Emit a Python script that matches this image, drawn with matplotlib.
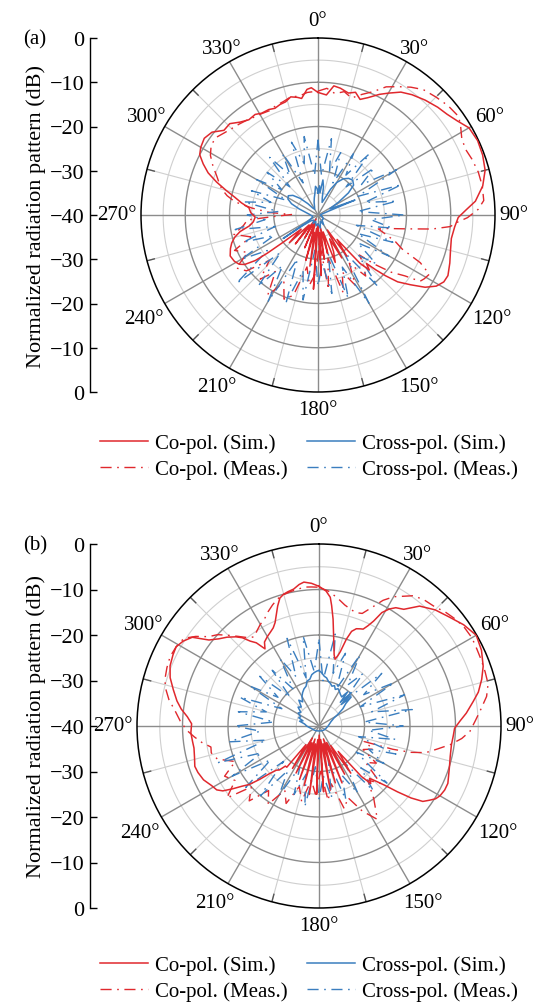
import numpy as np
import matplotlib
matplotlib.use('Agg')
import matplotlib.pyplot as plt
import matplotlib.transforms as mtransforms
from matplotlib.lines import Line2D

plt.rcParams['font.family'] = ['Liberation Serif', 'DejaVu Serif']

RED = '#e0282d'
BLUE = '#3b7ebf'
DARK = '#8c8c8c'
LIGHT = '#cfcfcf'

# ---------------- data (angle deg, dB) ----------------
A_CO_SIM = [(0,-12.3),(4,-12.8),(7,-10.6),(10,-10.9),(14,-11.6),(17,-11.0),(20,-12.2),(23,-11.2),(27,-9.4),(30,-8.2),
            (34,-6.5),(38,-5.5),(43,-4.5),(48,-3.6),(52,-3.0),(56,-2.0),(60,-0.6),(65,-0.2),(70,-0.4),(75,-0.9),
            (80,-2.2),(85,-4.3),(88,-6.5),(91,-8.3),(95,-9.0),(100,-9.4),(105,-9.0),(110,-8.3),(115,-7.6),(118,-7.8),
            (121,-8.8),(124,-10.8),(127,-13.8),(130,-16.5),(132,-19.5),(133.5,-22),(135,-24.5),(137,-23),(139,-25.5),
            (142,-33),(145,-28.6),(148,-36),(151,-28.9),(154,-34),(157,-31),(160,-28.6),(163,-36),(166,-31),(169,-37),
            (172,-29.9),(175,-36),(177,-26.3),(180,-38),(183.5,-23.2),(186,-37),(189,-28.3),(192,-36),(195,-29.4),(198,-38),
            (202,-32),(206,-39),(210,-34),(214,-38),(218,-31.7),(222,-37),(226,-31),(230,-35),(232,-30),(233,-25.7),
            (234,-22.5),(236,-20),(238,-19),(241,-18.4),(245,-18.1),(249,-18.8),(252,-19.5),(255,-20.5),(258,-22),(261,-24.3),
            (264,-25.3),(268,-25.8),(272,-24.8),(276,-24.3),(279,-22.5),(282,-20.8),(285,-18.5),(288,-15.9),(291,-13.4),(294,-11.6),
            (297,-10.0),(300,-9.4),(304,-9.0),(308,-9.6),(312,-11.4),(316,-11.3),(320,-12.6),(324,-13.4),(328,-13.2),(331,-13.7),
            (335,-13.7),(338,-14.0),(341,-13.6),(344,-13.4),(347,-12.6),(350,-13.0),(352,-13.4),(355,-11.5),(357,-11.2),(360,-12.3)]

A_CO_MEAS = [(0,-12),(4,-11.3),(8,-12.3),(12,-11.5),(16,-12.5),(20,-11),(24,-9.5),(28,-7.2),(32,-5.8),(36,-4.3),
             (40,-3.0),(45,-2.3),(50,-1.6),(55,-1.2),(58,-2.0),(62,-3.2),(66,-3.5),(70,-3.0),(75,-2.5),(80,-2.3),
             (85,-2.4),(88,-3.8),(91,-6.2),(93,-8.5),(95,-10),(97,-14),(99,-20),(101,-24),(103,-26),(106,-24),
             (109,-21.5),(112,-19.5),(115,-14.5),(118,-11.5),(121,-12),(123,-12.5),(125,-16),(128,-19),(131,-23),(134,-27),
             (137,-25),(142,-22.5),(147,-27),(152,-22),(157,-26),(162,-21.5),(167,-30),(172,-23),(177,-34),(182,-27),
             (187,-24),(192,-28),(197,-21),(202,-19.5),(207,-23),(212,-18.5),(217,-24),(222,-20.5),(227,-25),(232,-19.5),
             (237,-18),(242,-22),(247,-19.5),(252,-24),(257,-20.5),(262,-23),(266,-24),(268,-30),(271,-34),(273,-29),
             (276,-25),(279,-21),(282,-19),(285,-17.5),(288,-16.5),(291,-15.5),(295,-13.8),(299,-12.2),(303,-11.2),(307,-11.0),
             (311,-11.8),(315,-12.4),(319,-12.8),(323,-13.2),(327,-13.6),(331,-13.8),(335,-14.0),(339,-13.5),(343,-13.2),(347,-12.6),
             (351,-12.8),(355,-12.2),(360,-12)]

A_X_SIM = [(0,-35),(3,-33.4),(5,-35),(8,-32),(11,-33.5),(14,-36),(18,-37),(22,-36),(26,-33.5),(30,-31.5),
           (35,-30),(40,-29.2),(45,-28.9),(50,-29.5),(54,-31.5),(58,-34.5),(62,-37),(66,-35),(68,-31),(70,-37.5),
           (75,-39),(85,-39.3),(95,-39.5),(110,-39),(125,-38.5),(140,-38.6),(150,-37.5),(160,-38.5),(170,-37),(180,-38),
           (190,-37.5),(200,-38.5),(210,-37.8),(220,-38.5),(230,-38),(235,-36),(236,-30.5),(237.5,-37),(245,-38.5),(255,-38.8),
           (265,-38.5),(275,-38),(283,-37),(288,-35.5),(293,-33.5),(298,-32.3),(303,-32),(308,-32.8),(313,-34.5),(318,-36.5),
           (323,-38),(330,-38.5),(337,-38),(343,-37),(348,-36),(352,-35),(355,-33.5),(358,-34),(360,-35)]

XM_ANG = list(range(0, 360, 5)) + [360]
A_X_MEAS = [-23,-31,-22.5,-30,-25,-32,-24,-29,-22,-31,-23.5,-28,-19.5,-30,-20,-29,-22,-31,-20.5,-28,
            -23,-31,-22,-30,-21.5,-29,-23,-27,-19,-30,-17,-27,-20,-31,-22,-29,-24,-32,-20.5,-27,
            -19,-29,-17.5,-26,-19,-28,-16,-26,-20,-29,-22,-30,-21,-28,-24,-31,-23,-29,-24,-32,
            -24,-30,-25,-31,-23,-29,-24,-32,-22.5,-28,-22,-31]

B_CO_SIM = [(0,-9.3),(3,-10.3),(5,-11.6),(6,-13.4),(7.5,-16.3),(9,-19.5),(10.5,-22),(12,-24),(13.5,-24.9),(15,-24),
            (16,-23),(17.5,-20),(19,-18),(21,-17.1),(23,-16.8),(24.5,-16.6),(26,-15.5),(27.5,-14),(29,-11.5),(31,-10),
            (33,-9),(36,-8.3),(40,-5.6),(45,-3.9),(50,-2.7),(55,-1.2),(60,-0.1),(65,-0.6),(70,-1.6),(74,-2.8),
            (78,-4.2),(81,-5.7),(85,-7.5),(88,-9),(91,-10.2),(94,-10.4),(98,-10.6),(103,-10.4),(107,-10.0),(111,-9.5),
            (114,-9.0),(117,-9.0),(120,-9.3),(122,-9.8),(124,-10.8),(126,-11.8),(128,-14.3),(130,-17.5),(132,-20.5),(134,-22.5),
            (136,-24),(138,-23),(140,-25.5),(143,-33),(146,-27.5),(149,-35),(152,-28),(155,-36),(158,-26.5),(161,-37),
            (164,-27),(167,-36),(170,-26),(173,-37),(176,-25.5),(179,-38),(182,-25),(185,-37),(188,-24.8),(191,-36),
            (194,-26.5),(197,-37),(200,-27.5),(203,-36),(206,-28.5),(209,-37),(212,-29),(215,-35),(218,-28.5),(220,-28.5),
            (222,-27),(224,-26.5),(226,-25),(228,-22.5),(230,-20),(232,-18.5),(234,-16.5),(236,-14.5),(238,-13.5),(241,-13),
            (245,-12),(249,-11.5),(252,-11.3),(256,-11.8),(260,-12.1),(263,-12.0),(267,-11.8),(271,-12.0),(274,-11),(277,-9.5),
            (280,-8.3),(284,-7.0),(288,-5.6),(292,-4.7),(296,-4.3),(299,-4.1),(302,-4.8),(305,-6.0),(308,-9.3),(311,-10.8),
            (314,-11.9),(317,-13.2),(319,-14.3),(321,-16),(323,-17.1),(325,-19.3),(327,-18),(330,-17.3),(332.5,-16.8),(335,-16.2),
            (337,-15.3),(339,-13.8),(341,-12.1),(343,-10.6),(345,-10),(347,-9.7),(349.5,-9.4),(352,-8.6),(354,-8.2),(357,-8.6),
            (360,-9.3)]

B_CO_MEAS = [(0,-9.5),(4,-10.3),(8,-11.5),(12,-12.8),(15,-13.4),(18,-13.8),(21,-13.5),(24,-11.5),(27,-9),(30,-7.2),
             (33,-6),(36,-4.6),(40,-3.9),(44,-3.5),(48,-2.6),(52,-1.9),(56,-1.4),(60,-1.2),(64,-1.4),(68,-1.5),
             (72,-1.6),(76,-1.7),(80,-2.6),(84,-4.2),(88,-5.6),(92,-6.8),(95,-8.5),(98,-10.8),(101,-13.5),(104,-15.8),
             (106,-19),(107.5,-23),(109,-29.5),(113,-27),(118,-29),(123,-25),(128,-27),(133,-21.5),(138,-24),(143,-20),
             (148,-15.8),(153,-19),(158,-23),(163,-21),(168,-27),(173,-23.5),(178,-30),(183,-25),(188,-28),(193,-23),
             (198,-26),(203,-21.5),(208,-24),(213,-19.5),(218,-22),(223,-17.5),(228,-20),(232,-14.3),(237,-18),(242,-16.5),
             (247,-20),(252,-16.5),(256,-15.6),(259,-15.8),(262,-14),(265,-12.5),(268,-11),(272,-9.5),(276,-8.2),(280,-6.5),
             (284,-5.2),(287,-4.6),(291,-4.2),(295,-3.9),(299,-4.1),(303,-4.6),(306,-6.5),(309,-8.8),(312,-10),(315,-11.8),
             (318,-13.5),(321,-15),(324,-15.8),(327,-15),(330,-14.2),(333,-13.6),(336,-12.5),(339,-11.5),(342,-10.6),(345,-10.1),
             (348,-9.8),(351,-9.6),(354,-9.3),(357,-9.4),(360,-9.5)]

B_X_SIM = [(0,-27.8),(3,-28.3),(6,-29),(9,-29.3),(12,-30),(15,-30.3),(18,-30.8),(21,-30.5),(24,-31.2),(27,-30.8),
           (30,-31.1),(34,-31.6),(38,-31.9),(40,-30.2),(42,-33),(44,-29.8),(46,-33.2),(48,-30.5),(50,-32.3),(54,-33.5),
           (58,-35),(62,-36.3),(66,-36.8),(70,-37.2),(80,-37.7),(90,-38),(110,-38.4),(130,-38.6),(150,-38.8),(170,-38.9),
           (190,-38.9),(210,-38.8),(230,-38.6),(250,-38.3),(262,-37.8),(270,-37.3),(278,-36.8),(284,-35.6),(288,-36.3),(292,-35.2),
           (297,-35.5),(302,-34.6),(307,-35),(312,-33.8),(317,-34.3),(322,-32.8),(326,-33.6),(330,-32.5),(334,-31.8),(338,-31.2),
           (342,-30.8),(345,-29.8),(349,-29.5),(352,-28.6),(355,-28.2),(358,-27.9),(360,-27.8)]

B_X_MEAS = [-21,-30,-19.5,-28,-23,-31,-22,-29,-25,-32,-22,-28,-21,-30,-20,-28,-19.2,-30,-21.5,-29,
            -23,-31,-22,-28,-23.5,-30,-20.5,-27,-21.5,-30,-23,-28,-22.8,-32,-24,-29,-24,-31,-22,-29,
            -24,-30,-22.5,-28,-20,-29,-19,-27,-18,-26,-16.5,-28,-20,-27,-21.5,-30,-22,-28,-21.5,-31,
            -22.5,-29,-23,-31,-24,-30,-23,-28,-19.5,-29,-20,-28]

ANGLE_LABELS = list(range(0, 360, 30))
DB_TICKS = [0, -10, -20, -30, -40, -30, -20, -10, 0]
LEGEND_LABELS = ['Co-pol. (Sim.)', 'Co-pol. (Meas.)', 'Cross-pol. (Sim.)', 'Cross-pol. (Meas.)']

W, H = 535, 1004
fig = plt.figure(figsize=(W / 100, H / 100), dpi=100)
renderer = fig.canvas.get_renderer()

MEAS_LS = (0, (8, 4, 1.2, 4))
# small pixel nudges (dx, dy) for the lower oblique angle labels
NUDGE = {120: (3, -5), 150: (5, -5), 210: (-5, -5), 240: (-3, -5)}


def to_polar(pairs):
    arr = np.array(pairs, dtype=float)
    return np.deg2rad(arr[:, 0]), np.clip(arr[:, 1] + 40, 0, 40)


def panel(cx, cy, R, tag, co_sim, co_meas, x_sim, x_meas, leg_y):
    ax = fig.add_axes([(cx - R) / W, 1 - (cy + R) / H, 2 * R / W, 2 * R / H], projection='polar')
    ax.set_theta_zero_location('N')
    ax.set_theta_direction(-1)
    ax.set_ylim(0, 40)
    ax.grid(False)
    ax.set_xticks([])
    ax.set_yticks([])
    ax.spines['polar'].set_color('black')
    ax.spines['polar'].set_linewidth(1.1)
    th = np.linspace(0, 2 * np.pi, 721)
    for d in [-35, -25, -15, -5]:
        ax.plot(th, np.full_like(th, d + 40), color=LIGHT, lw=0.8, zorder=1)
    for d in [-30, -20, -10]:
        ax.plot(th, np.full_like(th, d + 40), color=DARK, lw=1.0, zorder=1.2)
    for a in range(0, 360, 30):
        ax.plot([np.deg2rad(a)] * 2, [0, 40], color=DARK, lw=1.0, zorder=1.2)
    for a in range(15, 360, 30):
        ax.plot([np.deg2rad(a)] * 2, [5, 40], color=LIGHT, lw=0.8, zorder=1)
        ax.plot([np.deg2rad(a)] * 2, [38.3, 40], color='#555555', lw=1.0, zorder=1.3)

    t, r = to_polar(co_sim)
    ax.plot(t, r, color=RED, lw=1.1, zorder=4)
    t, r = to_polar(co_meas)
    ax.plot(t, r, color=RED, lw=1.0, ls=MEAS_LS, zorder=3)
    t, r = to_polar(x_sim)
    ax.plot(t, r, color=BLUE, lw=1.1, zorder=4)
    n = len(XM_ANG) - 1
    t = np.deg2rad(np.array(XM_ANG, dtype=float))
    r = np.clip(np.array(list(x_meas[:n]) + [x_meas[0]]) + 40, 0, 40)
    ax.plot(t, r, color=BLUE, lw=1.0, ls=MEAS_LS, zorder=3)

    # angle labels placed just outside the rim, accounting for text extent
    for a in ANGLE_LABELS:
        ndx, ndy = NUDGE.get(a, (0, 0))
        tr = mtransforms.offset_copy(ax.transData, fig=fig, x=ndx, y=ndy, units='dots')
        txt = ax.text(np.deg2rad(a), 40, f'{a}°', ha='center', va='center',
                      fontsize=15, clip_on=False, transform=tr)
        bb = txt.get_window_extent(renderer)
        w, h = bb.width, bb.height * 0.85
        s, c = abs(np.sin(np.deg2rad(a))), abs(np.cos(np.deg2rad(a)))
        ext = min(w / 2 / s if s > 1e-6 else 1e9, h / 2 / c if c > 1e-6 else 1e9)
        gap = 9 - 5 * s
        txt.set_position((np.deg2rad(a), 40 + (gap + ext) * 40.0 / R))

    # left linear dB axis
    lx = 90 / W
    ax2 = fig.add_axes([lx, 1 - (cy + R) / H, 0.02, 2 * R / H])
    ax2.set_ylim(-40, 40)
    ax2.set_xlim(0, 1)
    for s_ in ['top', 'right', 'bottom']:
        ax2.spines[s_].set_visible(False)
    ax2.spines['left'].set_linewidth(1.0)
    ax2.set_xticks([])
    pos = np.linspace(40, -40, len(DB_TICKS))
    ax2.set_yticks(pos)
    ax2.set_yticklabels(['0' if v == 0 else '\u2212' + str(abs(v)) for v in DB_TICKS], fontsize=16)
    ax2.tick_params(axis='y', direction='in', length=5, width=1.0, pad=4)
    ax2.patch.set_visible(False)

    fig.text(36 / W, 1 - cy / H, 'Normalized radiation pattern (dB)', rotation=90,
             ha='center', va='center', fontsize=16)
    fig.text(35 / W, 1 - (cy - R + 1) / H, tag, ha='center', va='center', fontsize=15)

    handles = [Line2D([], [], color=RED, lw=1.1),
               Line2D([], [], color=RED, lw=1.0, ls=MEAS_LS),
               Line2D([], [], color=BLUE, lw=1.1),
               Line2D([], [], color=BLUE, lw=1.0, ls=MEAS_LS)]
    fig.legend(handles, LEGEND_LABELS, ncol=2, loc='center', frameon=False,
               bbox_to_anchor=(309 / W, 1 - leg_y / H), fontsize=15,
               handlelength=2.3, handletextpad=0.35, columnspacing=0.92,
               labelspacing=0.3, borderpad=0, borderaxespad=0)


panel(318, 216, 177, '(a)', A_CO_SIM, A_CO_MEAS, A_X_SIM, A_X_MEAS, 457)
panel(319, 727, 182, '(b)', B_CO_SIM, B_CO_MEAS, B_X_SIM, B_X_MEAS, 979)

fig.savefig('out.png', dpi=100)
